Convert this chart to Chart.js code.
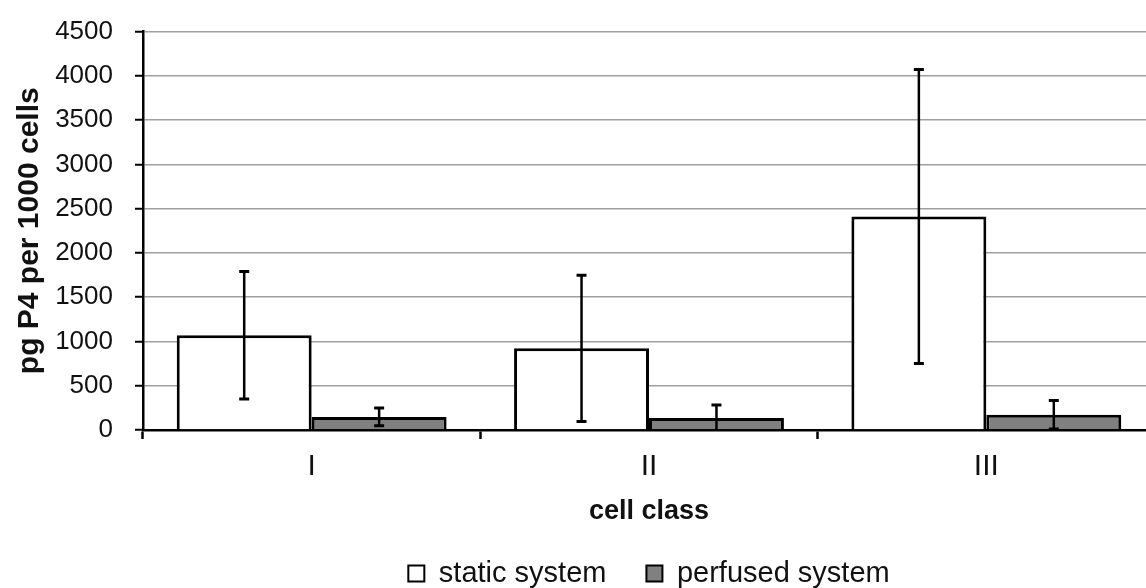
<!DOCTYPE html>
<html>
<head>
<meta charset="utf-8">
<script src="https://cdn.jsdelivr.net/npm/chart.js@4/dist/chart.umd.min.js"></script>
<style>
  html, body { margin: 0; padding: 0; background: #fff; overflow: hidden; }
  #wrap { width: 1160px; height: 588px; }
</style>
</head>
<body>
<div id="wrap"><canvas id="chart" width="1160" height="588"></canvas></div>
<script>
const categories = ["I", "II", "III"];
const staticValues = [1070, 922, 2411];
const staticErrors = [720, 825, 1660];
const perfusedValues = [148, 135, 172];
const perfusedErrors = [100, 146, 160];
const yTicks = { min: 0, max: 4500, step: 500 };

const FONT = "'Liberation Sans', Arial, sans-serif";
const ink = "#111";

// error bars drawn from the y scale, clipped to the plot area
const errorBars = {
  id: "errorBars",
  afterDatasetsDraw(chart) {
    const { ctx, chartArea, scales } = chart;
    const y = scales.y;
    ctx.save();
    ctx.beginPath();
    ctx.rect(chartArea.left, chartArea.top - 2, chartArea.right - chartArea.left, chartArea.bottom - chartArea.top + 2);
    ctx.clip();
    ctx.strokeStyle = "#000";
    chart.data.datasets.forEach((ds, di) => {
      const meta = chart.getDatasetMeta(di);
      meta.data.forEach((bar, i) => {
        const v = ds.data[i];
        const e = ds.errors[i];
        const top = y.getPixelForValue(v + e);
        const bot = y.getPixelForValue(v - e);
        ctx.lineWidth = 2.5;
        ctx.beginPath();
        ctx.moveTo(bar.x, top);
        ctx.lineTo(bar.x, bot);
        ctx.stroke();
        ctx.lineWidth = 3;
        ctx.beginPath();
        ctx.moveTo(bar.x - 5, top);
        ctx.lineTo(bar.x + 5, top);
        ctx.moveTo(bar.x - 5, bot);
        ctx.lineTo(bar.x + 5, bot);
        ctx.stroke();
      });
    });
    ctx.restore();
  },
};

const chart = new Chart(document.getElementById("chart"), {
  type: "bar",
  data: {
    labels: categories,
    datasets: [
      {
        label: "static system",
        data: staticValues,
        errors: staticErrors,
        backgroundColor: "#ffffff",
        borderColor: "#000",
        borderWidth: 3,
        categoryPercentage: 0.8,
        barPercentage: 1.0,
      },
      {
        label: "perfused system",
        data: perfusedValues,
        errors: perfusedErrors,
        backgroundColor: "#808080",
        borderColor: "#000",
        borderWidth: 3,
        categoryPercentage: 0.8,
        barPercentage: 1.0,
      },
    ],
  },
  options: {
    responsive: false,
    animation: false,
    layout: { padding: { top: 31.5, right: 5, left: 0, bottom: -10 } },
    plugins: {
      legend: {
        position: "bottom",
        fullSize: false,
        labels: {
          color: ink,
          font: { family: FONT, size: 29 },
          boxWidth: 16,
          boxHeight: 16,
          padding: 40,
          generateLabels: (c) =>
            Chart.defaults.plugins.legend.labels.generateLabels(c).map((l) => ({ ...l, lineWidth: 2 })),
        },
      },
      tooltip: { enabled: false },
    },
    scales: {
      x: {
        grid: {
          offset: true,
          drawOnChartArea: false,
          tickLength: 9,
          tickColor: "#000",
          tickWidth: 2.5,
        },
        border: { color: "#000", width: 2.5 },
        ticks: { color: ink, font: { family: FONT, size: 30 }, padding: 10 },
        title: {
          display: true,
          text: "cell class",
          color: ink,
          font: { family: FONT, size: 27, weight: "bold" },
          padding: { top: 0, bottom: -9 },
        },
        afterFit: (s) => { s.height = 89; },
      },
      y: {
        min: yTicks.min,
        max: yTicks.max,
        grid: {
          color: "#a0a0a0",
          lineWidth: 1.5,
          tickLength: 8,
          tickColor: "#000",
          tickWidth: 2,
        },
        border: { color: "#000", width: 2.5 },
        ticks: {
          stepSize: yTicks.step,
          color: ink,
          font: { family: FONT, size: 26 },
          padding: 22,
          callback: (v) => String(v),
        },
        title: {
          display: true,
          text: "pg P4 per 1000 cells",
          color: ink,
          font: { family: FONT, size: 30, weight: "bold" },
          padding: { top: 12, bottom: 0 },
        },
        afterFit: (s) => {
          s.width = 143;
          s.paddingTop = 0;
          s.paddingBottom = 0;
        },
      },
    },
  },
  plugins: [errorBars],
});
</script>
</body>
</html>
